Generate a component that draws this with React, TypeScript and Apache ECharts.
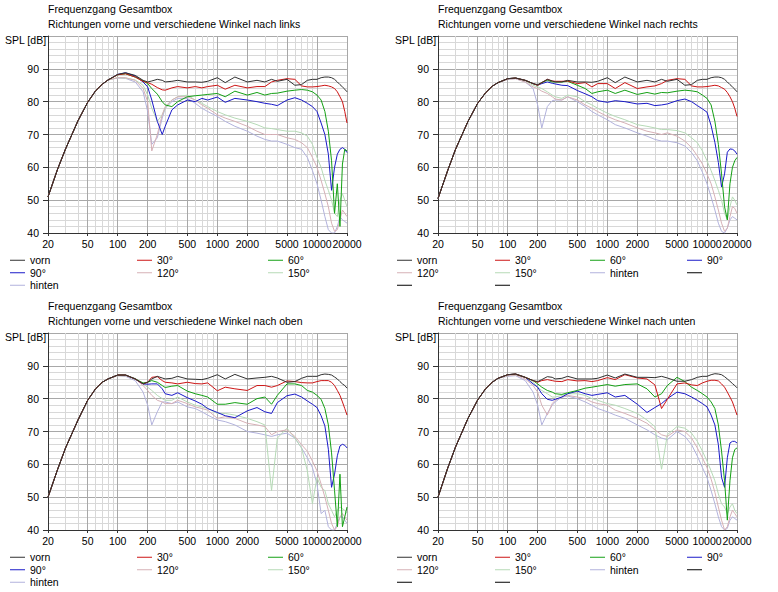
import React, { useEffect, useRef } from 'react'
import * as echarts from 'echarts'

const FONT = '"Liberation Sans", Arial, sans-serif'

// Frequenzen in Hz (tiefer Teil ist pro Diagramm fuer alle Kurven gleich)
const lowFreqs = [20, 25, 30, 40, 50, 60, 70, 80]
const midFreqs = [
  100, 120, 150, 180, 200, 220, 250, 280, 300, 350, 400, 500, 600, 700, 800, 1000, 1200, 1500, 2000, 2500,
  3000, 3500, 4000, 5000, 6000, 7000, 8000, 9000, 10000, 11000, 12000, 13000, 14000, 15000, 16000, 17000,
  18000, 19000, 20000,
]
const freqs = [...lowFreqs, ...midFreqs]

const majorTicks = [20, 50, 100, 200, 500, 1000, 2000, 5000, 10000, 20000]
const minorTicks = [30, 40, 60, 70, 80, 90, 300, 400, 600, 700, 800, 900, 3000, 4000, 6000, 7000, 8000, 9000]

const curveNames = ['vorn', '30°', '60°', '90°', '120°', '150°', 'hinten']
const curveColors = ['#303030', '#cc1414', '#14a014', '#1a1ac8', '#d6b0b6', '#b6dab6', '#b2b2dc']

const titleText = 'Frequenzgang Gesamtbox'
const subTitles = [
  'Richtungen vorne und verschiedene Winkel nach links',
  'Richtungen vorne und verschiedene Winkel nach rechts',
  'Richtungen vorne und verschiedene Winkel nach oben',
  'Richtungen vorne und verschiedene Winkel nach unten',
]

// nach links
const linksLow = [51, 59.5, 65.6, 74.2, 79.8, 83.3, 85.3, 86.6]
const linksVorn = [88.3, 88.8, 88, 86.5, 86, 86.3, 86.8, 86.5, 86, 86.2, 86.5, 86, 86, 85.9, 86.2, 87.3, 85.8, 87.5, 86, 86.5, 86, 86.8, 86.2, 86.8, 85, 85.2, 86.5, 86.8, 86.8, 87.3, 87.5, 87.5, 87.3, 86.8, 86, 85.2, 84.5, 83.8, 83]
const links30 = [88.2, 88.5, 87.5, 86.2, 85.8, 85.3, 84.3, 83.6, 83.5, 84.2, 84.6, 84.2, 84.6, 84.2, 84.6, 85, 83.8, 85, 84.2, 84.6, 84.6, 86, 86.5, 87, 86.8, 84.8, 84.5, 84.5, 84.6, 84.8, 85, 84.8, 84.5, 84, 83, 81.5, 80, 77, 73.5]
const links60 = [88.2, 88.5, 87.5, 86.3, 85.5, 84, 82.3, 80, 79, 78.5, 80, 81.5, 81.8, 82, 82.2, 82.5, 81.5, 83.2, 82, 82.8, 82, 82.5, 82.6, 83.2, 83.5, 83.7, 83.5, 83, 82, 80.5, 77, 71, 62, 46, 55, 42, 61, 65.5, 65]
const links90 = [88.3, 88.8, 87.8, 86, 84.5, 80.5, 74, 70, 72.5, 77.5, 79, 80.5, 80, 81, 80.5, 81.4, 79.8, 81, 80.5, 80, 79.5, 79.2, 78.8, 80.5, 81.2, 80.5, 79.5, 78.5, 77, 73.5, 70, 64, 53, 60, 64, 65.5, 66, 65.5, 64.5]
const links120 = [87.3, 87.3, 86.5, 84, 80, 65, 70, 76, 78.5, 80.5, 81.5, 81.5, 80.5, 79, 78, 76, 75, 74, 72.5, 71, 70, 70, 70, 69, 68.5, 67.5, 66, 63, 60, 56, 52, 48, 43, 40.5, 41, 44, 47, 46, 45]
const links150 = [87.3, 87.2, 86.6, 85, 82, 78, 74, 76, 78, 80.5, 81.5, 82, 80.5, 79.5, 78.5, 77, 76, 75, 74, 73, 72, 71.8, 71.5, 71, 71, 70.5, 69.5, 67, 63, 60, 56, 53, 50, 46, 45, 50, 52, 50, 48]
const linksHinten = [87.2, 87.1, 86, 83, 77, 67, 69, 75, 78, 80, 81, 81, 79.5, 78, 77, 75.5, 74, 72.5, 71, 69.5, 68.5, 68, 68, 67, 66, 65.5, 63, 59, 55, 50, 45, 41, 40, 40, 42, 45, 44, 43.5, 43]

// nach rechts
const rechtsLow = [50.5, 59, 65.5, 74, 79.5, 82.7, 84.7, 85.8]
const rechtsVorn = [87, 87.2, 86.5, 85.5, 85.2, 85.8, 86.8, 86.3, 86, 86, 86.5, 86, 86, 85.9, 86.2, 87.3, 85.8, 87.5, 86, 86.5, 86, 86.8, 86.2, 86.8, 85, 85.2, 86.5, 86.8, 86.8, 87.3, 87.5, 87.5, 87.3, 86.8, 86, 85.2, 84.5, 83.8, 83]
const rechts30 = [87, 87.2, 86.5, 85.5, 85, 85.8, 86.8, 86.3, 86.2, 86.2, 86.3, 85.5, 85.8, 84.5, 85.5, 85.5, 84, 85.8, 84, 84.5, 84.8, 85.5, 86.5, 87, 86.8, 84.8, 84.5, 84.5, 84.6, 84.8, 85, 84.8, 84.3, 83.8, 82.8, 81.5, 80, 78, 75.5]
const rechts60 = [87, 87.2, 86.5, 85.5, 85, 85.8, 86.5, 86, 86, 86, 86.2, 85, 84, 82.5, 83, 83.5, 82.5, 83.5, 82.2, 82.8, 82.3, 82.8, 82.7, 83.2, 83.5, 83.3, 83, 82, 81, 79, 74, 67, 58, 48, 44, 55, 60, 62, 63]
const rechts90 = [87, 87.2, 86.5, 85.5, 85, 85.5, 86, 85.6, 85.4, 85, 84.9, 83.4, 82.4, 81.5, 80.3, 79.8, 80.3, 80, 79.3, 79.5, 78.8, 79, 79.3, 80.3, 80.8, 80, 78.8, 77.8, 76.8, 72.7, 67.6, 61.5, 54, 58, 64.6, 65.6, 65.5, 65, 64]
const rechts120 = [86.8, 87, 86, 84.5, 84, 83.2, 82.5, 81.5, 80.8, 80.5, 81.5, 80.5, 79, 78, 77, 75.5, 74.5, 73.5, 72, 71, 70.5, 70, 70.5, 69.5, 68, 66, 63.5, 61, 58, 55, 51, 47, 43, 40.5, 41.5, 45, 48, 47.5, 46]
const rechts150 = [86.9, 87.1, 86.3, 85, 84.5, 84, 83, 82, 81.5, 81, 82, 81.5, 80, 79, 78, 76.5, 75.5, 74.5, 73, 72.5, 72, 71.5, 71.5, 71.2, 70.5, 69, 67.5, 65, 62, 59, 56, 53, 50, 46, 44, 48, 51, 50, 48.5]
const rechtsHinten = [86.8, 87, 86, 84, 79, 72, 78.5, 80.3, 80.5, 80.5, 81.5, 80, 78.5, 77, 76, 74.5, 73, 72, 70.5, 69.5, 68.5, 68, 68, 67.5, 66.5, 64.5, 62, 58.5, 55, 51, 47, 43, 40.5, 40, 41.5, 44, 45, 44.5, 44]

// nach oben
const obenLow = [50, 58.5, 65, 73.5, 79.5, 83, 85, 86]
const obenVorn = [87.2, 87.2, 86, 84.5, 85, 86, 86.8, 86.3, 86, 86.2, 86.8, 86, 85.9, 85.8, 86.2, 87.3, 86, 87.4, 86, 86.3, 86.5, 86.8, 86.3, 85, 85.2, 86.2, 86.8, 86.8, 86.8, 87.3, 87.5, 87.4, 87.2, 86.6, 86, 85.2, 84.5, 84, 83.2]
const oben30 = [87.2, 87.2, 86, 84.5, 85, 86.5, 86.7, 85.5, 85, 84.8, 84.5, 85, 84.6, 84.5, 84.8, 82.4, 83.5, 83, 82.5, 84, 84, 83.5, 84, 85.4, 85.2, 84.9, 84.8, 84.8, 85.2, 85.5, 85.5, 85.5, 85, 84, 82.5, 81, 79, 77, 75]
const oben60 = [87.2, 87.2, 86, 84.8, 85, 85.5, 85, 84, 83.4, 83.8, 84, 82.3, 81.5, 81, 80.5, 78.3, 78.3, 78.8, 78.3, 80, 80.5, 78.3, 81, 84.5, 84.5, 84, 82.5, 82, 81, 79.8, 77, 72, 63.5, 52, 41, 57, 41, 44, 47]
const oben90 = [87.2, 87.2, 86, 84.5, 84.4, 84.5, 84.5, 83, 81.5, 81, 81.8, 80.3, 79.3, 78.3, 77, 75.8, 74.8, 74.2, 76.3, 77.3, 76, 75.5, 78.8, 80.9, 81.4, 80.5, 79.3, 78.3, 77.3, 74.8, 71.7, 64.6, 53, 57, 62.6, 65.6, 66.1, 65.8, 65]
const oben120 = [87, 87, 86, 84, 82.5, 81, 79.5, 79, 78.5, 78.5, 79.5, 78.5, 77.5, 77, 76.5, 74, 74.5, 74, 72.5, 72, 71.5, 69, 70, 70.5, 68.5, 66, 64, 61, 58, 54, 50, 46, 42, 40, 41, 44, 45, 44, 43]
const oben150 = [87, 87, 86.2, 84.5, 83.5, 82.5, 81, 80, 79.5, 79.5, 80.5, 79, 78, 77.5, 77, 75.5, 75.5, 75, 74, 73, 72, 52, 68, 71, 68, 65, 58, 48, 56, 53, 52, 48, 46, 44, 46, 47, 46.5, 46, 45]
const obenHinten = [87, 86.8, 85.5, 82, 78, 72, 76, 79, 79, 78.5, 79, 77.5, 77, 76, 75, 73.5, 73, 72, 70, 69.5, 69, 68.5, 69, 69.5, 68, 65, 62, 59, 54, 45, 46, 41, 40, 40, 42, 44, 44, 43, 42]

// nach unten
const untenLow = [50, 58.8, 65.3, 74, 79.6, 83, 85, 86.2]
const untenVorn = [87.3, 87.5, 86.5, 85.5, 85.2, 85.8, 86.7, 86.5, 86, 86.2, 86.8, 86, 86, 86, 86.2, 87.2, 86.3, 87.5, 86.5, 86.5, 86.4, 86.8, 86.3, 85.3, 85.3, 85.8, 86.5, 86.8, 86.8, 87.3, 87.6, 87.5, 87.3, 86.7, 86, 85.3, 84.6, 84, 83.3]
const unten30 = [87.3, 87.5, 86.5, 85.5, 85, 85.5, 85.8, 85.5, 85.3, 85.2, 85.8, 85.4, 85.5, 85.2, 85.5, 86.4, 85.8, 87.3, 86.3, 86, 84.2, 77, 79.8, 84.5, 84.8, 84.2, 84, 84.8, 85.3, 85.6, 85.6, 85.4, 84.5, 83.5, 82, 80.5, 79, 77, 75]
const unten60 = [87.3, 87.5, 86.5, 85.5, 84.5, 83.5, 82.5, 82, 81.5, 81.3, 81.8, 82.5, 83.2, 83.5, 83.8, 84.3, 83.8, 84.3, 84.5, 83, 80.5, 81.5, 84, 86.5, 85.2, 83.5, 82.5, 81.5, 80.5, 79, 77, 72, 64, 55, 43, 55, 62, 64.5, 65]
const unten90 = [87.3, 87.5, 86.5, 84.5, 83.5, 81.5, 79.8, 79.5, 79.8, 80.5, 81.5, 82.3, 81.5, 81, 81.3, 81.8, 80.5, 81, 78.3, 75.8, 77.3, 78.5, 80, 82, 81.5, 80.5, 79.5, 78.5, 77.5, 75, 72, 66, 56, 53, 62, 66.5, 67, 67, 66.5]
const unten120 = [87, 87.2, 86, 84, 82, 78, 75, 78.5, 79.5, 80.5, 81, 80.5, 80, 79, 78.5, 78, 76.5, 75.5, 74, 72.5, 70.5, 69, 68.5, 70.5, 70, 68, 65, 62, 59, 55.5, 51.5, 47, 43, 40, 41, 44, 46, 45, 44]
const unten150 = [87, 87.2, 86.5, 85, 83.5, 82.5, 81.5, 80.5, 80.5, 81, 81.5, 81.5, 81, 80, 79.5, 78.5, 78, 77, 75.5, 73.5, 71.5, 58.5, 69, 71.5, 71, 69.5, 67, 64, 61, 58, 55, 51, 48, 47, 45, 47, 48, 46, 45]
const untenHinten = [86.8, 87, 85.5, 82, 78, 72, 75.5, 78, 79, 80.5, 80.8, 80, 79, 78, 77, 76, 75, 74, 72, 70.5, 69, 68, 67.5, 70, 68.5, 66, 62.5, 59, 56, 52, 48, 44, 41, 40, 40.5, 43, 44, 43.5, 43]

// Legenden-Spalten (leer = schwarzer Strich ohne Text)
const legend3 = [
  { x: 10, items: ['vorn', '90°', 'hinten'] },
  { x: 137, items: ['30°', '120°'] },
  { x: 268, items: ['60°', '150°'] },
]
const legend4 = [
  { x: 7, items: ['vorn', '120°', 'leer1'] },
  { x: 105, items: ['30°', '150°', 'leer2'] },
  { x: 200, items: ['60°', 'hinten'] },
  { x: 297, items: ['90°', 'leer3'] },
]
const blankNames = ['leer1', 'leer2', 'leer3']

const panels = [
  { ox: 0, oy: 0, low: linksLow, curves: [linksVorn, links30, links60, links90, links120, links150, linksHinten], legend: legend3 },
  { ox: 390, oy: 0, low: rechtsLow, curves: [rechtsVorn, rechts30, rechts60, rechts90, rechts120, rechts150, rechtsHinten], legend: legend4 },
  { ox: 0, oy: 297, low: obenLow, curves: [obenVorn, oben30, oben60, oben90, oben120, oben150, obenHinten], legend: legend3 },
  { ox: 390, oy: 297, low: untenLow, curves: [untenVorn, unten30, unten60, unten90, unten120, unten150, untenHinten], legend: legend4 },
]

const txt = { fontFamily: FONT, fontSize: 10.5, color: '#000' }

const FrequencyCharts = () => {
  const chartRef = useRef<HTMLDivElement>(null)

  useEffect(() => {
    if (!chartRef.current) return
    const chart = echarts.init(chartRef.current, null, { renderer: 'svg' })

    const title: any[] = []
    const grid: any[] = []
    const xAxis: any[] = []
    const yAxis: any[] = []
    const legend: any[] = []
    const series: any[] = []

    panels.forEach((p, i) => {
      title.push({
        text: titleText,
        subtext: subTitles[i],
        left: p.ox + 48,
        top: p.oy + 3,
        padding: 0,
        itemGap: 3,
        textStyle: { ...txt, fontWeight: 'normal', lineHeight: 12 },
        subtextStyle: { ...txt, lineHeight: 12 },
      })
      title.push({
        text: 'SPL [dB]',
        left: p.ox + 5,
        top: p.oy + 34,
        padding: 0,
        textStyle: { ...txt, fontWeight: 'normal', lineHeight: 12 },
      })
      grid.push({ left: p.ox + 48, top: p.oy + 36, width: 299, height: 197 })

      // feine Gitterlinien
      xAxis.push({
        type: 'log',
        gridIndex: i,
        position: 'bottom',
        min: 20,
        max: 20000,
        axisLine: { show: false },
        axisTick: { show: false, customValues: minorTicks },
        axisLabel: { show: false, customValues: minorTicks },
        splitLine: { show: true, lineStyle: { color: '#d8d8d8', width: 1 } },
      })
      // beschriftete Achse
      xAxis.push({
        type: 'log',
        gridIndex: i,
        position: 'bottom',
        min: 20,
        max: 20000,
        axisLine: { show: true, onZero: false, lineStyle: { color: '#333' } },
        axisTick: { show: true, length: 3, customValues: majorTicks, lineStyle: { color: '#333' } },
        axisLabel: { ...txt, margin: 5, customValues: majorTicks, formatter: (v: number) => String(Math.round(v)) },
        splitLine: { show: true, lineStyle: { color: '#a8a8a8', width: 1 } },
      })
      yAxis.push({
        type: 'value',
        gridIndex: i,
        position: 'left',
        min: 40,
        max: 100,
        interval: 10,
        axisLine: { show: true, onZero: false, lineStyle: { color: '#333' } },
        axisTick: { show: true, length: 5, lineStyle: { color: '#333' } },
        axisLabel: { ...txt, margin: 9, formatter: (v: number) => (v === 100 ? '' : String(v)) },
        splitLine: { show: true, lineStyle: { color: '#a8a8a8', width: 1 } },
        minorTick: { show: false, splitNumber: 5 },
        minorSplitLine: { show: true, lineStyle: { color: '#d8d8d8', width: 1 } },
      })

      const order = [6, 5, 4, 3, 2, 1, 0]
      order.forEach((k) => {
        const vals = [...p.low, ...p.curves[k]]
        series.push({
          type: 'line',
          name: curveNames[k],
          xAxisIndex: i * 2 + 1,
          yAxisIndex: i,
          data: freqs.map((f, j) => [f, vals[j]]),
          showSymbol: false,
          symbol: 'none',
          clip: true,
          silent: true,
          emphasis: { disabled: true },
          lineStyle: { width: 1, color: curveColors[k] },
          itemStyle: { color: curveColors[k] },
        })
      })
      if (p.legend === legend4) {
        blankNames.forEach((n) => {
          series.push({
            type: 'line',
            name: n,
            xAxisIndex: i * 2 + 1,
            yAxisIndex: i,
            data: [],
            showSymbol: false,
            lineStyle: { width: 1, color: '#000' },
            itemStyle: { color: '#000' },
          })
        })
      }

      p.legend.forEach((col) => {
        legend.push({
          orient: 'vertical',
          left: p.ox + col.x,
          top: p.oy + 254,
          padding: 0,
          itemGap: 0,
          itemWidth: 15,
          itemHeight: 1,
          icon: 'rect',
          selectedMode: false,
          data: col.items,
          formatter: (name: string) => (name.startsWith('leer') ? ' ' : name),
          textStyle: { ...txt, lineHeight: 12.5 },
        })
      })
    })

    chart.setOption({
      animation: false,
      backgroundColor: '#fff',
      textStyle: { fontFamily: FONT },
      title,
      grid,
      xAxis,
      yAxis,
      legend,
      series,
    })

    return () => {
      chart.dispose()
    }
  }, [])

  return (
    <div
      ref={chartRef}
      style={{ position: 'absolute', left: 0, top: 0, width: 778, height: 592, background: '#fff' }}
    />
  )
}

export default function App() {
  return <FrequencyCharts />
}
